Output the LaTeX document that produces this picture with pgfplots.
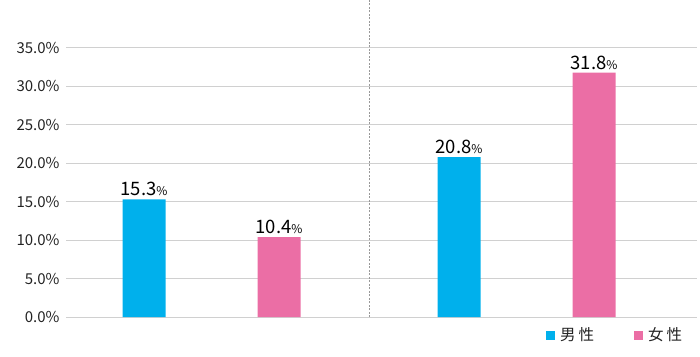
\documentclass[border=0pt]{standalone}
\usepackage{pgfplots}
\pgfplotsset{compat=1.18}
\usepackage{fontspec}
\setmainfont{Noto Sans CJK JP}
\definecolor{cblue}{RGB}{0,176,236}
\definecolor{cpink}{RGB}{235,110,165}
\definecolor{gridc}{RGB}{208,208,208}
\definecolor{txt}{RGB}{35,35,35}
\begin{document}
\begin{tikzpicture}[x=1pt,y=1pt]
\path[use as bounding box] (0,0) rectangle (700,356);
\begin{axis}[
  /pgf/number format/assume math mode=true,
  at={(66pt,39pt)}, anchor=south west,
  scale only axis, width=631pt, height=317pt,
  xmin=0, xmax=631, ymin=0, ymax=41.24,
  axis line style={draw=none},
  tick style={draw=none},
  xtick=\empty,
  ytick={0,5,...,35},
  ymajorgrids,
  grid style={gridc, line width=1pt},
  yticklabel={\pgfmathprintnumber[fixed,fixed zerofill,precision=1]{\tick}\%},
  yticklabel style={font=\fontsize{15}{15}\selectfont, color=txt, xshift=-3pt},
  legend style={at={(0.7607,-0.057)}, anchor=west, draw=none, fill=none, inner sep=0pt,
    font=\fontsize{15.5}{15.5}\selectfont, text=txt, legend columns=2,
    /tikz/every even column/.append style={column sep=35pt},
    /tikz/every odd column/.append style={column sep=0pt},
    nodes={inner xsep=5pt},
    legend cell align=left},
  legend image code/.code={\fill[#1] (0pt,-4.5pt) rectangle (9pt,4.5pt);},
  nodes near coords={\pgfmathprintnumber[fixed,fixed zerofill,precision=1]{\pgfplotspointmeta}{\fontsize{12}{12}\selectfont\%}},
  nodes near coords style={font=\fontsize{18.5}{18.5}\selectfont, color=black, inner sep=3pt, anchor=south},
]
\addplot[ybar, bar width=43, bar shift=0pt, fill=cblue, draw=none] coordinates {(78,15.3) (393,20.8)};
\addlegendentry{男\hspace{3pt}性}
\addplot[ybar, bar width=43, bar shift=0pt, fill=cpink, draw=none] coordinates {(213,10.4) (528,31.8)};
\addlegendentry{女\hspace{3pt}性}
\addplot[gray!80, dash pattern=on 2pt off 1.5pt, line width=0.7pt, nodes near coords={}, forget plot] coordinates {(303,0) (303,41.24)};
\end{axis}
\end{tikzpicture}
\end{document}
